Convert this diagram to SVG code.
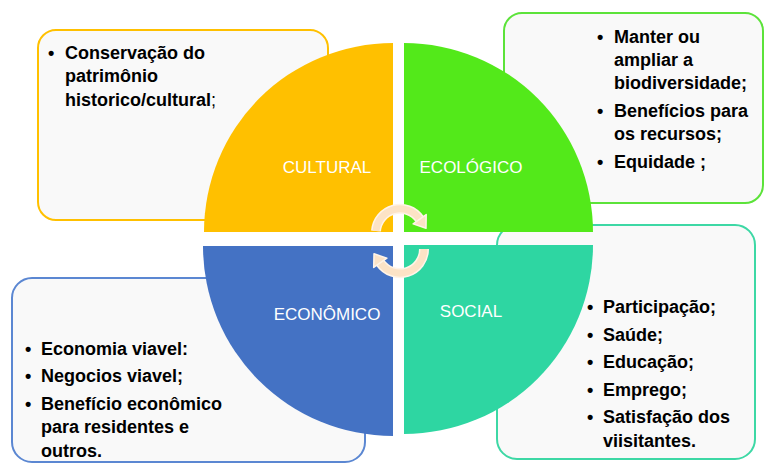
<svg xmlns="http://www.w3.org/2000/svg" width="765" height="465" viewBox="0 0 765 465">
<style>
.box{fill:#F9F9F9;stroke-width:2}
.t{font-family:"Liberation Sans",Arial,sans-serif;font-weight:bold;font-size:18px;fill:#000}
.lbl{font-family:"Liberation Sans",Arial,sans-serif;font-size:17px;fill:#fff;text-anchor:middle}
.arcO{fill:none;stroke:#FFF4E8;stroke-width:10}
.arcI{fill:none;stroke:#FCE3C6;stroke-width:7}
.head{fill:#FCE3C6;stroke:#FFF4E8;stroke-width:1.5;stroke-linejoin:round}
</style>
<rect width="765" height="465" fill="#fff"/>
<g id="box-cultural">
<rect class="box" x="38" y="30" width="290" height="190" rx="18" stroke="#FFC000"/>
<text class="t" x="48" y="59">•</text><text class="t" x="65" y="59">Conservação do</text>
<text class="t" x="65" y="82">patrimônio</text>
<text class="t" x="65" y="106">historico/cultural<tspan font-weight="normal">;</tspan></text>
</g>
<g id="box-ecologico">
<rect class="box" x="504" y="13" width="259" height="190" rx="18" stroke="#5CE33A"/>
<text class="t" x="597" y="43">•</text><text class="t" x="614" y="43">Manter ou</text>
<text class="t" x="614" y="66">ampliar a</text>
<text class="t" x="614" y="89">biodiversidade;</text>
<text class="t" x="597" y="117">•</text><text class="t" x="614" y="117">Benefícios para</text>
<text class="t" x="614" y="140">os recursos;</text>
<text class="t" x="597" y="168">•</text><text class="t" x="614" y="168">Equidade ;</text>
</g>
<g id="box-social">
<rect class="box" x="497" y="225" width="258" height="234" rx="20" stroke="#3DD8A5"/>
<text class="t" x="587" y="313">•</text><text class="t" x="603" y="313">Participação;</text>
<text class="t" x="587" y="341">•</text><text class="t" x="603" y="341">Saúde;</text>
<text class="t" x="587" y="368">•</text><text class="t" x="603" y="368">Educação;</text>
<text class="t" x="587" y="396">•</text><text class="t" x="603" y="396">Emprego;</text>
<text class="t" x="587" y="423">•</text><text class="t" x="603" y="423">Satisfação dos</text>
<text class="t" x="603" y="447">viisitantes.</text>
</g>
<g id="box-economico">
<rect class="box" x="12" y="278" width="353" height="184" rx="20" stroke="#5B87D2"/>
<text class="t" x="25" y="355">•</text><text class="t" x="41" y="355">Economia viavel:</text>
<text class="t" x="25" y="382">•</text><text class="t" x="41" y="382">Negocios viavel;</text>
<text class="t" x="25" y="410">•</text><text class="t" x="41" y="410">Benefício econômico</text>
<text class="t" x="41" y="433">para residentes e</text>
<text class="t" x="41" y="457">outros.</text>
</g>
<g id="cultural">
<path d="M393,232 L204,232 A189,189 0 0 1 393,43 Z" fill="#FFC000"/>
<text class="lbl" x="327" y="173">CULTURAL</text>
</g>
<g id="ecologico">
<path d="M404,232 L404,43 A189,189 0 0 1 593,232 Z" fill="#53E91A"/>
<text class="lbl" x="471" y="173">ECOLÓGICO</text>
</g>
<g id="economico">
<path d="M393,246 L393,436 A190,190 0 0 1 203,246 Z" fill="#4472C4"/>
<text class="lbl" x="327" y="320">ECONÔMICO</text>
</g>
<g id="social">
<path d="M404,245 L593,245 A189,189 0 0 1 404,434 Z" fill="#2ED6A2"/>
<text class="lbl" x="471" y="317">SOCIAL</text>
</g>
<g id="connectors">
<path class="arcO" d="M376,231 A24,24 0 0 1 419.7,219.2"/>
<path class="arcI" d="M376,231 A24,24 0 0 1 419.7,219.2"/>
<polygon class="head" points="426,228.2 426.2,214.6 413.1,223.8"/>
<path class="arcO" d="M424,249 A24,24 0 0 1 380.3,262.8"/>
<path class="arcI" d="M424,249 A24,24 0 0 1 380.3,262.8"/>
<polygon class="head" points="374,253.8 373.7,267.4 386.9,258.2"/>
</g>
</svg>
